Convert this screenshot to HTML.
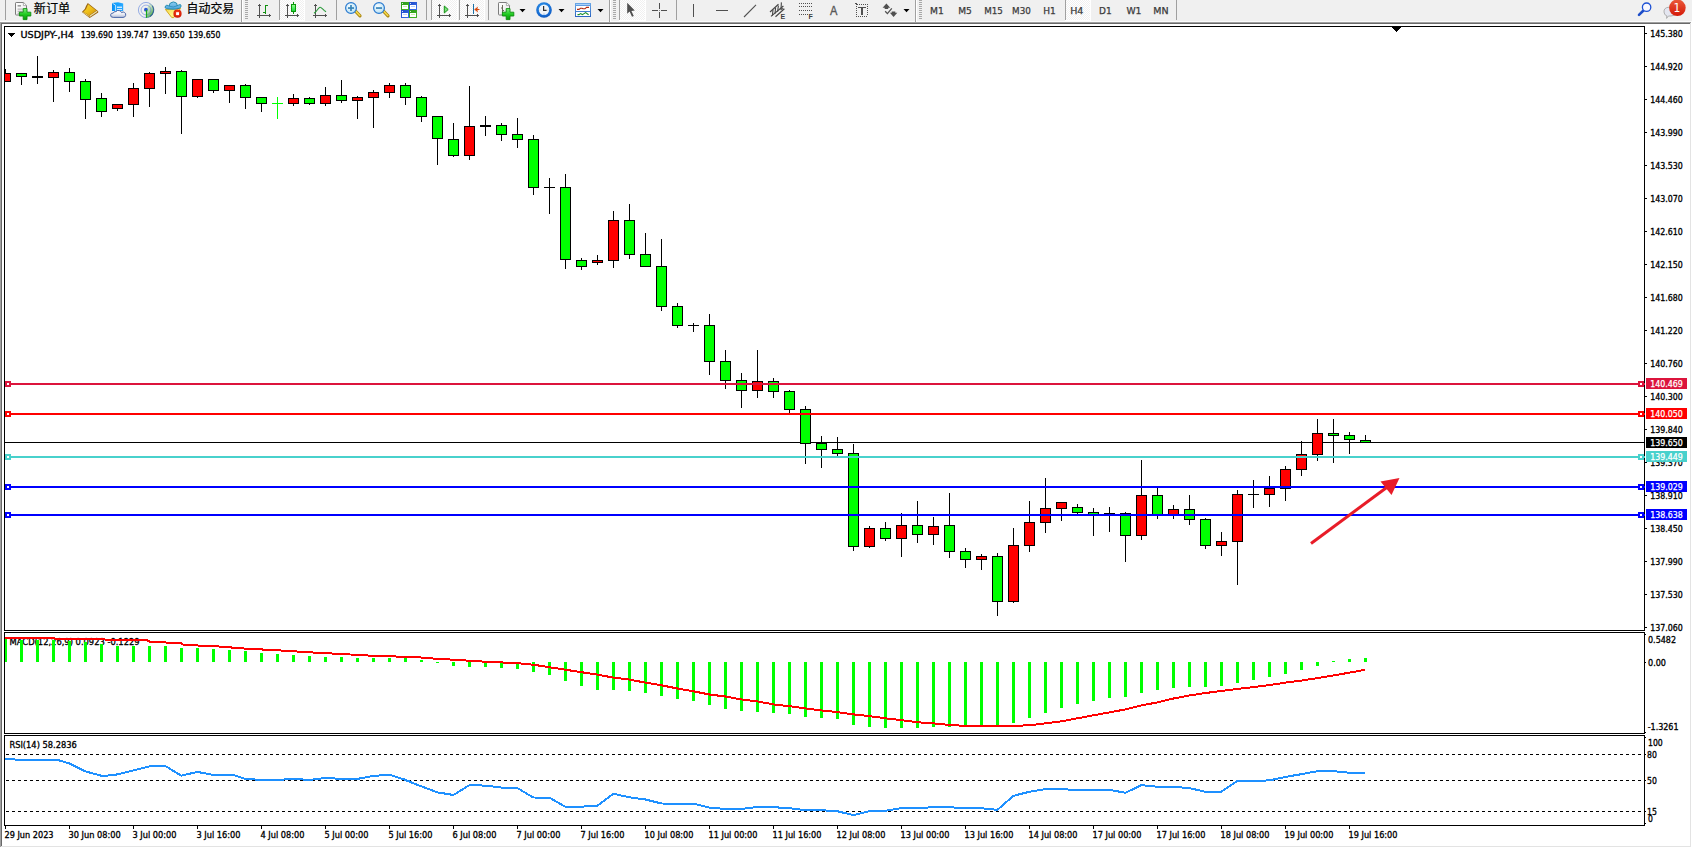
<!DOCTYPE html>
<html lang="zh"><head><meta charset="utf-8"><title>USDJPY-,H4</title>
<style>
html,body{margin:0;padding:0;background:#fff;overflow:hidden}
svg{display:block}
text{white-space:pre}
.tk text{stroke:#000;stroke-width:0.3px}
.tw text{stroke:#fff;stroke-width:0.25px}
</style></head><body>
<svg width="1692" height="848" viewBox="0 0 1692 848">
<g shape-rendering="crispEdges">
<rect x="0" y="0" width="1692" height="848" fill="#fff"/>
<rect x="0" y="0" width="1692" height="21" fill="#f0f0f0"/>
<rect x="0" y="21" width="1692" height="1" fill="#fbfbfb"/>
<rect x="0" y="22" width="1691" height="1" fill="#a0a0a0"/>
<rect x="1" y="23" width="1689" height="1" fill="#696969"/>
<rect x="0" y="22" width="1" height="825" fill="#a0a0a0"/>
<rect x="1" y="23" width="1" height="823" fill="#696969"/>
<rect x="1690" y="23" width="1" height="824" fill="#e3e3e3"/>
<rect x="1" y="846" width="1690" height="1" fill="#e3e3e3"/>
<rect x="1691" y="22" width="1" height="826" fill="#fff"/>
<rect x="0" y="847" width="1692" height="1" fill="#fff"/>
<rect x="4" y="26" width="1641" height="1" fill="#000"/>
<rect x="4" y="630" width="1641" height="1" fill="#000"/>
<rect x="4" y="26" width="1" height="605" fill="#000"/>
<rect x="1644" y="26" width="1" height="605" fill="#000"/>
<rect x="4" y="632" width="1641" height="1" fill="#000"/>
<rect x="4" y="733" width="1641" height="1" fill="#000"/>
<rect x="4" y="632" width="1" height="102" fill="#000"/>
<rect x="1644" y="632" width="1" height="102" fill="#000"/>
<rect x="4" y="735" width="1641" height="1" fill="#000"/>
<rect x="4" y="825" width="1641" height="1" fill="#000"/>
<rect x="4" y="735" width="1" height="91" fill="#000"/>
<rect x="1644" y="735" width="1" height="91" fill="#000"/>
</g>
<g class="tk" font-family='"DejaVu Sans Condensed","DejaVu Sans","Liberation Sans",sans-serif' font-size="9">
<g shape-rendering="crispEdges">
<rect x="1645" y="33" width="2" height="1" fill="#000"/>
<rect x="1645" y="66" width="2" height="1" fill="#000"/>
<rect x="1645" y="99" width="2" height="1" fill="#000"/>
<rect x="1645" y="132" width="2" height="1" fill="#000"/>
<rect x="1645" y="165" width="2" height="1" fill="#000"/>
<rect x="1645" y="198" width="2" height="1" fill="#000"/>
<rect x="1645" y="231" width="2" height="1" fill="#000"/>
<rect x="1645" y="264" width="2" height="1" fill="#000"/>
<rect x="1645" y="297" width="2" height="1" fill="#000"/>
<rect x="1645" y="330" width="2" height="1" fill="#000"/>
<rect x="1645" y="363" width="2" height="1" fill="#000"/>
<rect x="1645" y="396" width="2" height="1" fill="#000"/>
<rect x="1645" y="429" width="2" height="1" fill="#000"/>
<rect x="1645" y="462" width="2" height="1" fill="#000"/>
<rect x="1645" y="495" width="2" height="1" fill="#000"/>
<rect x="1645" y="528" width="2" height="1" fill="#000"/>
<rect x="1645" y="561" width="2" height="1" fill="#000"/>
<rect x="1645" y="594" width="2" height="1" fill="#000"/>
<rect x="1645" y="627" width="2" height="1" fill="#000"/>
</g>
<text x="1650.3" y="37" font-size="9" fill="#000" textLength="32.6" lengthAdjust="spacingAndGlyphs">145.380</text>
<text x="1650.3" y="70" font-size="9" fill="#000" textLength="32.6" lengthAdjust="spacingAndGlyphs">144.920</text>
<text x="1650.3" y="103" font-size="9" fill="#000" textLength="32.6" lengthAdjust="spacingAndGlyphs">144.460</text>
<text x="1650.3" y="136" font-size="9" fill="#000" textLength="32.6" lengthAdjust="spacingAndGlyphs">143.990</text>
<text x="1650.3" y="169" font-size="9" fill="#000" textLength="32.6" lengthAdjust="spacingAndGlyphs">143.530</text>
<text x="1650.3" y="202" font-size="9" fill="#000" textLength="32.6" lengthAdjust="spacingAndGlyphs">143.070</text>
<text x="1650.3" y="235" font-size="9" fill="#000" textLength="32.6" lengthAdjust="spacingAndGlyphs">142.610</text>
<text x="1650.3" y="268" font-size="9" fill="#000" textLength="32.6" lengthAdjust="spacingAndGlyphs">142.150</text>
<text x="1650.3" y="301" font-size="9" fill="#000" textLength="32.6" lengthAdjust="spacingAndGlyphs">141.680</text>
<text x="1650.3" y="334" font-size="9" fill="#000" textLength="32.6" lengthAdjust="spacingAndGlyphs">141.220</text>
<text x="1650.3" y="367" font-size="9" fill="#000" textLength="32.6" lengthAdjust="spacingAndGlyphs">140.760</text>
<text x="1650.3" y="400" font-size="9" fill="#000" textLength="32.6" lengthAdjust="spacingAndGlyphs">140.300</text>
<text x="1650.3" y="433" font-size="9" fill="#000" textLength="32.6" lengthAdjust="spacingAndGlyphs">139.840</text>
<text x="1650.3" y="466" font-size="9" fill="#000" textLength="32.6" lengthAdjust="spacingAndGlyphs">139.370</text>
<text x="1650.3" y="499" font-size="9" fill="#000" textLength="32.6" lengthAdjust="spacingAndGlyphs">138.910</text>
<text x="1650.3" y="532" font-size="9" fill="#000" textLength="32.6" lengthAdjust="spacingAndGlyphs">138.450</text>
<text x="1650.3" y="565" font-size="9" fill="#000" textLength="32.6" lengthAdjust="spacingAndGlyphs">137.990</text>
<text x="1650.3" y="598" font-size="9" fill="#000" textLength="32.6" lengthAdjust="spacingAndGlyphs">137.530</text>
<text x="1650.3" y="631" font-size="9" fill="#000" textLength="32.6" lengthAdjust="spacingAndGlyphs">137.060</text>
<text x="1648" y="643" font-size="9" fill="#000" textLength="28" lengthAdjust="spacingAndGlyphs">0.5482</text>
<text x="1648" y="666" font-size="9" fill="#000" textLength="18" lengthAdjust="spacingAndGlyphs">0.00</text>
<text x="1647.7" y="730" font-size="9" fill="#000" textLength="30.8" lengthAdjust="spacingAndGlyphs">-1.3261</text>
<g shape-rendering="crispEdges">
<rect x="1645" y="634" width="1" height="1" fill="#000"/>
<rect x="1645" y="662" width="1" height="1" fill="#000"/>
<rect x="1645" y="732" width="1" height="1" fill="#000"/>
<rect x="1645" y="737" width="1" height="1" fill="#000"/>
<rect x="1645" y="754" width="1" height="1" fill="#000"/>
<rect x="1645" y="780" width="1" height="1" fill="#000"/>
<rect x="1645" y="811" width="1" height="1" fill="#000"/>
<rect x="1645" y="823" width="1" height="1" fill="#000"/>
</g>
<text x="1648" y="746" font-size="9" fill="#000" textLength="14.8" lengthAdjust="spacingAndGlyphs">100</text>
<text x="1647" y="758" font-size="9" fill="#000" textLength="9.9" lengthAdjust="spacingAndGlyphs">80</text>
<text x="1647" y="784" font-size="9" fill="#000" textLength="9.9" lengthAdjust="spacingAndGlyphs">50</text>
<text x="1647" y="815" font-size="9" fill="#000" textLength="9.9" lengthAdjust="spacingAndGlyphs">15</text>
<text x="1648" y="822" font-size="9" fill="#000" textLength="4.9" lengthAdjust="spacingAndGlyphs">0</text>
<g shape-rendering="crispEdges">
<rect x="8" y="33" width="7" height="1" fill="#000"/>
<rect x="9" y="34" width="5" height="1" fill="#000"/>
<rect x="10" y="35" width="3" height="1" fill="#000"/>
<rect x="11" y="36" width="1" height="1" fill="#000"/>
</g>
<text x="20.5" y="38" font-size="9" fill="#000" textLength="53.5" lengthAdjust="spacingAndGlyphs">USDJPY-,H4</text>
<text x="80.7" y="38" font-size="9" fill="#000" textLength="32.2" lengthAdjust="spacingAndGlyphs">139.690</text>
<text x="116.5" y="38" font-size="9" fill="#000" textLength="32.2" lengthAdjust="spacingAndGlyphs">139.747</text>
<text x="152.4" y="38" font-size="9" fill="#000" textLength="32.2" lengthAdjust="spacingAndGlyphs">139.650</text>
<text x="188.3" y="38" font-size="9" fill="#000" textLength="32.2" lengthAdjust="spacingAndGlyphs">139.650</text>
<g shape-rendering="crispEdges">
<rect x="5" y="826" width="1" height="3" fill="#000"/>
<rect x="69" y="826" width="1" height="3" fill="#000"/>
<rect x="133" y="826" width="1" height="3" fill="#000"/>
<rect x="197" y="826" width="1" height="3" fill="#000"/>
<rect x="261" y="826" width="1" height="3" fill="#000"/>
<rect x="325" y="826" width="1" height="3" fill="#000"/>
<rect x="389" y="826" width="1" height="3" fill="#000"/>
<rect x="453" y="826" width="1" height="3" fill="#000"/>
<rect x="517" y="826" width="1" height="3" fill="#000"/>
<rect x="581" y="826" width="1" height="3" fill="#000"/>
<rect x="645" y="826" width="1" height="3" fill="#000"/>
<rect x="709" y="826" width="1" height="3" fill="#000"/>
<rect x="773" y="826" width="1" height="3" fill="#000"/>
<rect x="837" y="826" width="1" height="3" fill="#000"/>
<rect x="901" y="826" width="1" height="3" fill="#000"/>
<rect x="965" y="826" width="1" height="3" fill="#000"/>
<rect x="1029" y="826" width="1" height="3" fill="#000"/>
<rect x="1093" y="826" width="1" height="3" fill="#000"/>
<rect x="1157" y="826" width="1" height="3" fill="#000"/>
<rect x="1221" y="826" width="1" height="3" fill="#000"/>
<rect x="1285" y="826" width="1" height="3" fill="#000"/>
<rect x="1349" y="826" width="1" height="3" fill="#000"/>
</g>
<text x="4.5" y="838" font-size="9" fill="#000" textLength="49" lengthAdjust="spacingAndGlyphs">29 Jun 2023</text>
<text x="68.5" y="838" font-size="9" fill="#000" textLength="52.3" lengthAdjust="spacingAndGlyphs">30 Jun 08:00</text>
<text x="132.5" y="838" font-size="9" fill="#000" textLength="44" lengthAdjust="spacingAndGlyphs">3 Jul 00:00</text>
<text x="196.5" y="838" font-size="9" fill="#000" textLength="44" lengthAdjust="spacingAndGlyphs">3 Jul 16:00</text>
<text x="260.5" y="838" font-size="9" fill="#000" textLength="44" lengthAdjust="spacingAndGlyphs">4 Jul 08:00</text>
<text x="324.5" y="838" font-size="9" fill="#000" textLength="44" lengthAdjust="spacingAndGlyphs">5 Jul 00:00</text>
<text x="388.5" y="838" font-size="9" fill="#000" textLength="44" lengthAdjust="spacingAndGlyphs">5 Jul 16:00</text>
<text x="452.5" y="838" font-size="9" fill="#000" textLength="44" lengthAdjust="spacingAndGlyphs">6 Jul 08:00</text>
<text x="516.5" y="838" font-size="9" fill="#000" textLength="44" lengthAdjust="spacingAndGlyphs">7 Jul 00:00</text>
<text x="580.5" y="838" font-size="9" fill="#000" textLength="44" lengthAdjust="spacingAndGlyphs">7 Jul 16:00</text>
<text x="644.5" y="838" font-size="9" fill="#000" textLength="49" lengthAdjust="spacingAndGlyphs">10 Jul 08:00</text>
<text x="708.5" y="838" font-size="9" fill="#000" textLength="49" lengthAdjust="spacingAndGlyphs">11 Jul 00:00</text>
<text x="772.5" y="838" font-size="9" fill="#000" textLength="49" lengthAdjust="spacingAndGlyphs">11 Jul 16:00</text>
<text x="836.5" y="838" font-size="9" fill="#000" textLength="49" lengthAdjust="spacingAndGlyphs">12 Jul 08:00</text>
<text x="900.5" y="838" font-size="9" fill="#000" textLength="49" lengthAdjust="spacingAndGlyphs">13 Jul 00:00</text>
<text x="964.5" y="838" font-size="9" fill="#000" textLength="49" lengthAdjust="spacingAndGlyphs">13 Jul 16:00</text>
<text x="1028.5" y="838" font-size="9" fill="#000" textLength="49" lengthAdjust="spacingAndGlyphs">14 Jul 08:00</text>
<text x="1092.5" y="838" font-size="9" fill="#000" textLength="49" lengthAdjust="spacingAndGlyphs">17 Jul 00:00</text>
<text x="1156.5" y="838" font-size="9" fill="#000" textLength="49" lengthAdjust="spacingAndGlyphs">17 Jul 16:00</text>
<text x="1220.5" y="838" font-size="9" fill="#000" textLength="49" lengthAdjust="spacingAndGlyphs">18 Jul 08:00</text>
<text x="1284.5" y="838" font-size="9" fill="#000" textLength="49" lengthAdjust="spacingAndGlyphs">19 Jul 00:00</text>
<text x="1348.5" y="838" font-size="9" fill="#000" textLength="49" lengthAdjust="spacingAndGlyphs">19 Jul 16:00</text>
</g>
<g shape-rendering="crispEdges">
<rect x="4" y="442" width="1640" height="1" fill="#000"/>
</g>
<g shape-rendering="crispEdges">
<rect x="5" y="69" width="1" height="4" fill="#000"/>
<rect x="5" y="73" width="6" height="9" fill="#000"/>
<rect x="5" y="74" width="5" height="7" fill="#ff0000"/>
<rect x="21" y="77" width="1" height="8" fill="#000"/>
<rect x="16" y="73" width="11" height="4" fill="#000"/>
<rect x="17" y="74" width="9" height="2" fill="#00ff00"/>
<rect x="37" y="56" width="1" height="28" fill="#000"/>
<rect x="32" y="76" width="11" height="2" fill="#000"/>
<rect x="53" y="70" width="1" height="2" fill="#000"/>
<rect x="53" y="78" width="1" height="24" fill="#000"/>
<rect x="48" y="72" width="11" height="6" fill="#000"/>
<rect x="49" y="73" width="9" height="4" fill="#ff0000"/>
<rect x="69" y="68" width="1" height="4" fill="#000"/>
<rect x="69" y="82" width="1" height="10" fill="#000"/>
<rect x="64" y="72" width="11" height="10" fill="#000"/>
<rect x="65" y="73" width="9" height="8" fill="#00ff00"/>
<rect x="85" y="79" width="1" height="2" fill="#000"/>
<rect x="85" y="100" width="1" height="19" fill="#000"/>
<rect x="80" y="81" width="11" height="19" fill="#000"/>
<rect x="81" y="82" width="9" height="17" fill="#00ff00"/>
<rect x="101" y="93" width="1" height="5" fill="#000"/>
<rect x="101" y="112" width="1" height="5" fill="#000"/>
<rect x="96" y="98" width="11" height="14" fill="#000"/>
<rect x="97" y="99" width="9" height="12" fill="#00ff00"/>
<rect x="117" y="109" width="1" height="2" fill="#000"/>
<rect x="112" y="104" width="11" height="5" fill="#000"/>
<rect x="113" y="105" width="9" height="3" fill="#ff0000"/>
<rect x="133" y="83" width="1" height="5" fill="#000"/>
<rect x="133" y="105" width="1" height="12" fill="#000"/>
<rect x="128" y="88" width="11" height="17" fill="#000"/>
<rect x="129" y="89" width="9" height="15" fill="#ff0000"/>
<rect x="149" y="72" width="1" height="1" fill="#000"/>
<rect x="149" y="89" width="1" height="18" fill="#000"/>
<rect x="144" y="73" width="11" height="16" fill="#000"/>
<rect x="145" y="74" width="9" height="14" fill="#ff0000"/>
<rect x="165" y="67" width="1" height="4" fill="#000"/>
<rect x="165" y="74" width="1" height="20" fill="#000"/>
<rect x="160" y="71" width="11" height="3" fill="#000"/>
<rect x="161" y="72" width="9" height="1" fill="#ff0000"/>
<rect x="181" y="70" width="1" height="1" fill="#000"/>
<rect x="181" y="97" width="1" height="37" fill="#000"/>
<rect x="176" y="71" width="11" height="26" fill="#000"/>
<rect x="177" y="72" width="9" height="24" fill="#00ff00"/>
<rect x="197" y="97" width="1" height="1" fill="#000"/>
<rect x="192" y="79" width="11" height="18" fill="#000"/>
<rect x="193" y="80" width="9" height="16" fill="#ff0000"/>
<rect x="213" y="91" width="1" height="2" fill="#000"/>
<rect x="208" y="79" width="11" height="12" fill="#000"/>
<rect x="209" y="80" width="9" height="10" fill="#00ff00"/>
<rect x="229" y="91" width="1" height="12" fill="#000"/>
<rect x="224" y="85" width="11" height="6" fill="#000"/>
<rect x="225" y="86" width="9" height="4" fill="#ff0000"/>
<rect x="245" y="84" width="1" height="1" fill="#000"/>
<rect x="245" y="98" width="1" height="11" fill="#000"/>
<rect x="240" y="85" width="11" height="13" fill="#000"/>
<rect x="241" y="86" width="9" height="11" fill="#00ff00"/>
<rect x="261" y="104" width="1" height="8" fill="#000"/>
<rect x="256" y="97" width="11" height="7" fill="#000"/>
<rect x="257" y="98" width="9" height="5" fill="#00ff00"/>
<rect x="277" y="97" width="1" height="22" fill="#00ff00"/>
<rect x="272" y="103" width="11" height="1" fill="#00ff00"/>
<rect x="293" y="94" width="1" height="4" fill="#000"/>
<rect x="293" y="104" width="1" height="2" fill="#000"/>
<rect x="288" y="98" width="11" height="6" fill="#000"/>
<rect x="289" y="99" width="9" height="4" fill="#ff0000"/>
<rect x="309" y="97" width="1" height="1" fill="#000"/>
<rect x="309" y="104" width="1" height="1" fill="#000"/>
<rect x="304" y="98" width="11" height="6" fill="#000"/>
<rect x="305" y="99" width="9" height="4" fill="#00ff00"/>
<rect x="325" y="87" width="1" height="8" fill="#000"/>
<rect x="325" y="104" width="1" height="2" fill="#000"/>
<rect x="320" y="95" width="11" height="9" fill="#000"/>
<rect x="321" y="96" width="9" height="7" fill="#ff0000"/>
<rect x="341" y="80" width="1" height="15" fill="#000"/>
<rect x="341" y="101" width="1" height="2" fill="#000"/>
<rect x="336" y="95" width="11" height="6" fill="#000"/>
<rect x="337" y="96" width="9" height="4" fill="#00ff00"/>
<rect x="357" y="96" width="1" height="1" fill="#000"/>
<rect x="357" y="101" width="1" height="18" fill="#000"/>
<rect x="352" y="97" width="11" height="4" fill="#000"/>
<rect x="353" y="98" width="9" height="2" fill="#ff0000"/>
<rect x="373" y="90" width="1" height="2" fill="#000"/>
<rect x="373" y="98" width="1" height="30" fill="#000"/>
<rect x="368" y="92" width="11" height="6" fill="#000"/>
<rect x="369" y="93" width="9" height="4" fill="#ff0000"/>
<rect x="389" y="83" width="1" height="2" fill="#000"/>
<rect x="389" y="93" width="1" height="5" fill="#000"/>
<rect x="384" y="85" width="11" height="8" fill="#000"/>
<rect x="385" y="86" width="9" height="6" fill="#ff0000"/>
<rect x="405" y="83" width="1" height="2" fill="#000"/>
<rect x="405" y="98" width="1" height="7" fill="#000"/>
<rect x="400" y="85" width="11" height="13" fill="#000"/>
<rect x="401" y="86" width="9" height="11" fill="#00ff00"/>
<rect x="421" y="96" width="1" height="1" fill="#000"/>
<rect x="421" y="117" width="1" height="5" fill="#000"/>
<rect x="416" y="97" width="11" height="20" fill="#000"/>
<rect x="417" y="98" width="9" height="18" fill="#00ff00"/>
<rect x="437" y="139" width="1" height="26" fill="#000"/>
<rect x="432" y="116" width="11" height="23" fill="#000"/>
<rect x="433" y="117" width="9" height="21" fill="#00ff00"/>
<rect x="453" y="123" width="1" height="16" fill="#000"/>
<rect x="453" y="156" width="1" height="1" fill="#000"/>
<rect x="448" y="139" width="11" height="17" fill="#000"/>
<rect x="449" y="140" width="9" height="15" fill="#00ff00"/>
<rect x="469" y="86" width="1" height="40" fill="#000"/>
<rect x="469" y="156" width="1" height="4" fill="#000"/>
<rect x="464" y="126" width="11" height="30" fill="#000"/>
<rect x="465" y="127" width="9" height="28" fill="#ff0000"/>
<rect x="485" y="116" width="1" height="20" fill="#000"/>
<rect x="480" y="125" width="11" height="2" fill="#000"/>
<rect x="501" y="123" width="1" height="2" fill="#000"/>
<rect x="501" y="135" width="1" height="6" fill="#000"/>
<rect x="496" y="125" width="11" height="10" fill="#000"/>
<rect x="497" y="126" width="9" height="8" fill="#00ff00"/>
<rect x="517" y="118" width="1" height="16" fill="#000"/>
<rect x="517" y="140" width="1" height="8" fill="#000"/>
<rect x="512" y="134" width="11" height="6" fill="#000"/>
<rect x="513" y="135" width="9" height="4" fill="#00ff00"/>
<rect x="533" y="135" width="1" height="4" fill="#000"/>
<rect x="533" y="188" width="1" height="7" fill="#000"/>
<rect x="528" y="139" width="11" height="49" fill="#000"/>
<rect x="529" y="140" width="9" height="47" fill="#00ff00"/>
<rect x="549" y="178" width="1" height="36" fill="#000"/>
<rect x="544" y="187" width="11" height="1" fill="#000"/>
<rect x="565" y="174" width="1" height="13" fill="#000"/>
<rect x="565" y="260" width="1" height="9" fill="#000"/>
<rect x="560" y="187" width="11" height="73" fill="#000"/>
<rect x="561" y="188" width="9" height="71" fill="#00ff00"/>
<rect x="581" y="258" width="1" height="2" fill="#000"/>
<rect x="581" y="267" width="1" height="3" fill="#000"/>
<rect x="576" y="260" width="11" height="7" fill="#000"/>
<rect x="577" y="261" width="9" height="5" fill="#00ff00"/>
<rect x="597" y="255" width="1" height="5" fill="#000"/>
<rect x="597" y="263" width="1" height="2" fill="#000"/>
<rect x="592" y="260" width="11" height="3" fill="#000"/>
<rect x="593" y="261" width="9" height="1" fill="#ff0000"/>
<rect x="613" y="211" width="1" height="9" fill="#000"/>
<rect x="613" y="261" width="1" height="7" fill="#000"/>
<rect x="608" y="220" width="11" height="41" fill="#000"/>
<rect x="609" y="221" width="9" height="39" fill="#ff0000"/>
<rect x="629" y="204" width="1" height="16" fill="#000"/>
<rect x="629" y="255" width="1" height="4" fill="#000"/>
<rect x="624" y="220" width="11" height="35" fill="#000"/>
<rect x="625" y="221" width="9" height="33" fill="#00ff00"/>
<rect x="645" y="233" width="1" height="21" fill="#000"/>
<rect x="640" y="254" width="11" height="13" fill="#000"/>
<rect x="641" y="255" width="9" height="11" fill="#00ff00"/>
<rect x="661" y="239" width="1" height="27" fill="#000"/>
<rect x="661" y="307" width="1" height="4" fill="#000"/>
<rect x="656" y="266" width="11" height="41" fill="#000"/>
<rect x="657" y="267" width="9" height="39" fill="#00ff00"/>
<rect x="677" y="303" width="1" height="3" fill="#000"/>
<rect x="677" y="326" width="1" height="2" fill="#000"/>
<rect x="672" y="306" width="11" height="20" fill="#000"/>
<rect x="673" y="307" width="9" height="18" fill="#00ff00"/>
<rect x="693" y="323" width="1" height="9" fill="#000"/>
<rect x="688" y="325" width="11" height="1" fill="#000"/>
<rect x="709" y="314" width="1" height="11" fill="#000"/>
<rect x="709" y="362" width="1" height="13" fill="#000"/>
<rect x="704" y="325" width="11" height="37" fill="#000"/>
<rect x="705" y="326" width="9" height="35" fill="#00ff00"/>
<rect x="725" y="350" width="1" height="11" fill="#000"/>
<rect x="725" y="381" width="1" height="8" fill="#000"/>
<rect x="720" y="361" width="11" height="20" fill="#000"/>
<rect x="721" y="362" width="9" height="18" fill="#00ff00"/>
<rect x="741" y="373" width="1" height="7" fill="#000"/>
<rect x="741" y="391" width="1" height="17" fill="#000"/>
<rect x="736" y="380" width="11" height="11" fill="#000"/>
<rect x="737" y="381" width="9" height="9" fill="#00ff00"/>
<rect x="757" y="350" width="1" height="31" fill="#000"/>
<rect x="757" y="391" width="1" height="7" fill="#000"/>
<rect x="752" y="381" width="11" height="10" fill="#000"/>
<rect x="753" y="382" width="9" height="8" fill="#ff0000"/>
<rect x="773" y="378" width="1" height="3" fill="#000"/>
<rect x="773" y="392" width="1" height="6" fill="#000"/>
<rect x="768" y="381" width="11" height="11" fill="#000"/>
<rect x="769" y="382" width="9" height="9" fill="#00ff00"/>
<rect x="789" y="390" width="1" height="1" fill="#000"/>
<rect x="789" y="410" width="1" height="3" fill="#000"/>
<rect x="784" y="391" width="11" height="19" fill="#000"/>
<rect x="785" y="392" width="9" height="17" fill="#00ff00"/>
<rect x="805" y="406" width="1" height="3" fill="#000"/>
<rect x="805" y="444" width="1" height="20" fill="#000"/>
<rect x="800" y="409" width="11" height="35" fill="#000"/>
<rect x="801" y="410" width="9" height="33" fill="#00ff00"/>
<rect x="821" y="436" width="1" height="7" fill="#000"/>
<rect x="821" y="450" width="1" height="18" fill="#000"/>
<rect x="816" y="443" width="11" height="7" fill="#000"/>
<rect x="817" y="444" width="9" height="5" fill="#00ff00"/>
<rect x="837" y="437" width="1" height="12" fill="#000"/>
<rect x="837" y="454" width="1" height="2" fill="#000"/>
<rect x="832" y="449" width="11" height="5" fill="#000"/>
<rect x="833" y="450" width="9" height="3" fill="#00ff00"/>
<rect x="853" y="444" width="1" height="9" fill="#000"/>
<rect x="853" y="547" width="1" height="4" fill="#000"/>
<rect x="848" y="453" width="11" height="94" fill="#000"/>
<rect x="849" y="454" width="9" height="92" fill="#00ff00"/>
<rect x="869" y="526" width="1" height="2" fill="#000"/>
<rect x="869" y="547" width="1" height="1" fill="#000"/>
<rect x="864" y="528" width="11" height="19" fill="#000"/>
<rect x="865" y="529" width="9" height="17" fill="#ff0000"/>
<rect x="885" y="522" width="1" height="6" fill="#000"/>
<rect x="885" y="539" width="1" height="2" fill="#000"/>
<rect x="880" y="528" width="11" height="11" fill="#000"/>
<rect x="881" y="529" width="9" height="9" fill="#00ff00"/>
<rect x="901" y="513" width="1" height="12" fill="#000"/>
<rect x="901" y="539" width="1" height="18" fill="#000"/>
<rect x="896" y="525" width="11" height="14" fill="#000"/>
<rect x="897" y="526" width="9" height="12" fill="#ff0000"/>
<rect x="917" y="501" width="1" height="24" fill="#000"/>
<rect x="917" y="535" width="1" height="8" fill="#000"/>
<rect x="912" y="525" width="11" height="10" fill="#000"/>
<rect x="913" y="526" width="9" height="8" fill="#00ff00"/>
<rect x="933" y="517" width="1" height="9" fill="#000"/>
<rect x="933" y="535" width="1" height="10" fill="#000"/>
<rect x="928" y="526" width="11" height="9" fill="#000"/>
<rect x="929" y="527" width="9" height="7" fill="#ff0000"/>
<rect x="949" y="493" width="1" height="32" fill="#000"/>
<rect x="949" y="552" width="1" height="6" fill="#000"/>
<rect x="944" y="525" width="11" height="27" fill="#000"/>
<rect x="945" y="526" width="9" height="25" fill="#00ff00"/>
<rect x="965" y="548" width="1" height="3" fill="#000"/>
<rect x="965" y="560" width="1" height="8" fill="#000"/>
<rect x="960" y="551" width="11" height="9" fill="#000"/>
<rect x="961" y="552" width="9" height="7" fill="#00ff00"/>
<rect x="981" y="554" width="1" height="2" fill="#000"/>
<rect x="981" y="560" width="1" height="10" fill="#000"/>
<rect x="976" y="556" width="11" height="4" fill="#000"/>
<rect x="977" y="557" width="9" height="2" fill="#ff0000"/>
<rect x="997" y="553" width="1" height="3" fill="#000"/>
<rect x="997" y="602" width="1" height="14" fill="#000"/>
<rect x="992" y="556" width="11" height="46" fill="#000"/>
<rect x="993" y="557" width="9" height="44" fill="#00ff00"/>
<rect x="1013" y="528" width="1" height="17" fill="#000"/>
<rect x="1013" y="602" width="1" height="1" fill="#000"/>
<rect x="1008" y="545" width="11" height="57" fill="#000"/>
<rect x="1009" y="546" width="9" height="55" fill="#ff0000"/>
<rect x="1029" y="501" width="1" height="21" fill="#000"/>
<rect x="1029" y="546" width="1" height="6" fill="#000"/>
<rect x="1024" y="522" width="11" height="24" fill="#000"/>
<rect x="1025" y="523" width="9" height="22" fill="#ff0000"/>
<rect x="1045" y="478" width="1" height="30" fill="#000"/>
<rect x="1045" y="523" width="1" height="10" fill="#000"/>
<rect x="1040" y="508" width="11" height="15" fill="#000"/>
<rect x="1041" y="509" width="9" height="13" fill="#ff0000"/>
<rect x="1061" y="509" width="1" height="12" fill="#000"/>
<rect x="1056" y="502" width="11" height="7" fill="#000"/>
<rect x="1057" y="503" width="9" height="5" fill="#ff0000"/>
<rect x="1077" y="504" width="1" height="3" fill="#000"/>
<rect x="1077" y="513" width="1" height="1" fill="#000"/>
<rect x="1072" y="507" width="11" height="6" fill="#000"/>
<rect x="1073" y="508" width="9" height="4" fill="#00ff00"/>
<rect x="1093" y="508" width="1" height="4" fill="#000"/>
<rect x="1093" y="515" width="1" height="21" fill="#000"/>
<rect x="1088" y="512" width="11" height="3" fill="#000"/>
<rect x="1089" y="513" width="9" height="1" fill="#00ff00"/>
<rect x="1109" y="507" width="1" height="25" fill="#000"/>
<rect x="1104" y="513" width="11" height="1" fill="#000"/>
<rect x="1125" y="512" width="1" height="1" fill="#000"/>
<rect x="1125" y="536" width="1" height="26" fill="#000"/>
<rect x="1120" y="513" width="11" height="23" fill="#000"/>
<rect x="1121" y="514" width="9" height="21" fill="#00ff00"/>
<rect x="1141" y="460" width="1" height="35" fill="#000"/>
<rect x="1141" y="536" width="1" height="4" fill="#000"/>
<rect x="1136" y="495" width="11" height="41" fill="#000"/>
<rect x="1137" y="496" width="9" height="39" fill="#ff0000"/>
<rect x="1157" y="487" width="1" height="8" fill="#000"/>
<rect x="1157" y="515" width="1" height="4" fill="#000"/>
<rect x="1152" y="495" width="11" height="20" fill="#000"/>
<rect x="1153" y="496" width="9" height="18" fill="#00ff00"/>
<rect x="1173" y="505" width="1" height="4" fill="#000"/>
<rect x="1173" y="515" width="1" height="4" fill="#000"/>
<rect x="1168" y="509" width="11" height="6" fill="#000"/>
<rect x="1169" y="510" width="9" height="4" fill="#ff0000"/>
<rect x="1189" y="495" width="1" height="14" fill="#000"/>
<rect x="1189" y="520" width="1" height="5" fill="#000"/>
<rect x="1184" y="509" width="11" height="11" fill="#000"/>
<rect x="1185" y="510" width="9" height="9" fill="#00ff00"/>
<rect x="1205" y="518" width="1" height="1" fill="#000"/>
<rect x="1205" y="546" width="1" height="3" fill="#000"/>
<rect x="1200" y="519" width="11" height="27" fill="#000"/>
<rect x="1201" y="520" width="9" height="25" fill="#00ff00"/>
<rect x="1221" y="532" width="1" height="9" fill="#000"/>
<rect x="1221" y="546" width="1" height="10" fill="#000"/>
<rect x="1216" y="541" width="11" height="5" fill="#000"/>
<rect x="1217" y="542" width="9" height="3" fill="#ff0000"/>
<rect x="1237" y="490" width="1" height="4" fill="#000"/>
<rect x="1237" y="542" width="1" height="43" fill="#000"/>
<rect x="1232" y="494" width="11" height="48" fill="#000"/>
<rect x="1233" y="495" width="9" height="46" fill="#ff0000"/>
<rect x="1253" y="480" width="1" height="28" fill="#000"/>
<rect x="1248" y="494" width="11" height="1" fill="#000"/>
<rect x="1269" y="476" width="1" height="12" fill="#000"/>
<rect x="1269" y="495" width="1" height="12" fill="#000"/>
<rect x="1264" y="488" width="11" height="7" fill="#000"/>
<rect x="1265" y="489" width="9" height="5" fill="#ff0000"/>
<rect x="1285" y="466" width="1" height="3" fill="#000"/>
<rect x="1285" y="489" width="1" height="12" fill="#000"/>
<rect x="1280" y="469" width="11" height="20" fill="#000"/>
<rect x="1281" y="470" width="9" height="18" fill="#ff0000"/>
<rect x="1301" y="441" width="1" height="13" fill="#000"/>
<rect x="1301" y="470" width="1" height="6" fill="#000"/>
<rect x="1296" y="454" width="11" height="16" fill="#000"/>
<rect x="1297" y="455" width="9" height="14" fill="#ff0000"/>
<rect x="1317" y="419" width="1" height="14" fill="#000"/>
<rect x="1317" y="455" width="1" height="6" fill="#000"/>
<rect x="1312" y="433" width="11" height="22" fill="#000"/>
<rect x="1313" y="434" width="9" height="20" fill="#ff0000"/>
<rect x="1333" y="419" width="1" height="14" fill="#000"/>
<rect x="1333" y="436" width="1" height="27" fill="#000"/>
<rect x="1328" y="433" width="11" height="3" fill="#000"/>
<rect x="1329" y="434" width="9" height="1" fill="#00ff00"/>
<rect x="1349" y="432" width="1" height="3" fill="#000"/>
<rect x="1349" y="440" width="1" height="14" fill="#000"/>
<rect x="1344" y="435" width="11" height="5" fill="#000"/>
<rect x="1345" y="436" width="9" height="3" fill="#00ff00"/>
<rect x="1365" y="435" width="1" height="5" fill="#000"/>
<rect x="1360" y="440" width="11" height="3" fill="#000"/>
<rect x="1361" y="441" width="9" height="1" fill="#00ff00"/>
</g>
<g shape-rendering="crispEdges">
<rect x="5" y="383" width="1639" height="2" fill="#dc143c"/>
<rect x="1644" y="383" width="1" height="2" fill="#dc143c"/>
<rect x="5" y="381" width="6" height="6" fill="#dc143c"/>
<rect x="7" y="383" width="2" height="2" fill="#fff"/>
<rect x="1638" y="381" width="6" height="6" fill="#dc143c"/>
<rect x="1640" y="383" width="2" height="2" fill="#fff"/>
<rect x="5" y="413" width="1639" height="2" fill="#ff0000"/>
<rect x="1644" y="413" width="1" height="2" fill="#ff0000"/>
<rect x="5" y="411" width="6" height="6" fill="#ff0000"/>
<rect x="7" y="413" width="2" height="2" fill="#fff"/>
<rect x="1638" y="411" width="6" height="6" fill="#ff0000"/>
<rect x="1640" y="413" width="2" height="2" fill="#fff"/>
<rect x="5" y="456" width="1639" height="2" fill="#48d1cc"/>
<rect x="1644" y="456" width="1" height="2" fill="#48d1cc"/>
<rect x="5" y="454" width="6" height="6" fill="#48d1cc"/>
<rect x="7" y="456" width="2" height="2" fill="#fff"/>
<rect x="1638" y="454" width="6" height="6" fill="#48d1cc"/>
<rect x="1640" y="456" width="2" height="2" fill="#fff"/>
<rect x="5" y="486" width="1639" height="2" fill="#0000ff"/>
<rect x="1644" y="486" width="1" height="2" fill="#0000ff"/>
<rect x="5" y="484" width="6" height="6" fill="#0000ff"/>
<rect x="7" y="486" width="2" height="2" fill="#fff"/>
<rect x="1638" y="484" width="6" height="6" fill="#0000ff"/>
<rect x="1640" y="486" width="2" height="2" fill="#fff"/>
<rect x="5" y="514" width="1639" height="2" fill="#0000ff"/>
<rect x="1644" y="514" width="1" height="2" fill="#0000ff"/>
<rect x="5" y="512" width="6" height="6" fill="#0000ff"/>
<rect x="7" y="514" width="2" height="2" fill="#fff"/>
<rect x="1638" y="512" width="6" height="6" fill="#0000ff"/>
<rect x="1640" y="514" width="2" height="2" fill="#fff"/>
</g>
<g class="tw" font-family='"DejaVu Sans Condensed","DejaVu Sans","Liberation Sans",sans-serif' font-size="9">
<g shape-rendering="crispEdges">
<rect x="1646" y="378" width="41" height="11" fill="#dc143c"/>
<rect x="1646" y="408" width="41" height="11" fill="#ff0000"/>
<rect x="1646" y="451" width="41" height="11" fill="#48d1cc"/>
<rect x="1646" y="481" width="41" height="11" fill="#0000ff"/>
<rect x="1646" y="509" width="41" height="11" fill="#0000ff"/>
<rect x="1646" y="437" width="41" height="11" fill="#000000"/>
</g>
<text x="1650.3" y="387" font-size="9" fill="#fff" textLength="32.6" lengthAdjust="spacingAndGlyphs">140.469</text>
<text x="1650.3" y="417" font-size="9" fill="#fff" textLength="32.6" lengthAdjust="spacingAndGlyphs">140.050</text>
<text x="1650.3" y="460" font-size="9" fill="#fff" textLength="32.6" lengthAdjust="spacingAndGlyphs">139.449</text>
<text x="1650.3" y="490" font-size="9" fill="#fff" textLength="32.6" lengthAdjust="spacingAndGlyphs">139.029</text>
<text x="1650.3" y="518" font-size="9" fill="#fff" textLength="32.6" lengthAdjust="spacingAndGlyphs">138.638</text>
<text x="1650.3" y="446" font-size="9" fill="#fff" textLength="32.6" lengthAdjust="spacingAndGlyphs">139.650</text>
</g>
<g shape-rendering="crispEdges">
<rect x="1392" y="27" width="9" height="1" fill="#000"/>
<rect x="1393" y="28" width="7" height="1" fill="#000"/>
<rect x="1394" y="29" width="5" height="1" fill="#000"/>
<rect x="1395" y="30" width="3" height="1" fill="#000"/>
<rect x="1396" y="31" width="1" height="1" fill="#000"/>
</g>
<g>
<line x1="1311" y1="543.5" x2="1388" y2="486.5" stroke="#e81c28" stroke-width="3"/>
<path d="M1399.5 478 L1380.5 481.5 L1391.5 495 Z" fill="#e81c28"/>
</g>
<g class="tk" font-family='"DejaVu Sans Condensed","DejaVu Sans","Liberation Sans",sans-serif' font-size="9">
<text x="9.6" y="645" font-size="9" fill="#000" textLength="130" lengthAdjust="spacingAndGlyphs">MACD(12,26,9) 0.0923 -0.1229</text>
<text x="9.4" y="748" font-size="9" fill="#000" textLength="67.4" lengthAdjust="spacingAndGlyphs">RSI(14) 58.2836</text>
</g>
<g shape-rendering="crispEdges">
<rect x="5" y="639" width="2" height="23" fill="#00ff00"/>
<rect x="20" y="640" width="3" height="22" fill="#00ff00"/>
<rect x="36" y="640" width="3" height="22" fill="#00ff00"/>
<rect x="52" y="640" width="3" height="22" fill="#00ff00"/>
<rect x="68" y="641" width="3" height="21" fill="#00ff00"/>
<rect x="84" y="642" width="3" height="20" fill="#00ff00"/>
<rect x="100" y="644" width="3" height="18" fill="#00ff00"/>
<rect x="116" y="646" width="3" height="16" fill="#00ff00"/>
<rect x="132" y="646" width="3" height="16" fill="#00ff00"/>
<rect x="148" y="646" width="3" height="16" fill="#00ff00"/>
<rect x="164" y="646" width="3" height="16" fill="#00ff00"/>
<rect x="180" y="648" width="3" height="14" fill="#00ff00"/>
<rect x="196" y="648" width="3" height="14" fill="#00ff00"/>
<rect x="212" y="649" width="3" height="13" fill="#00ff00"/>
<rect x="228" y="650" width="3" height="12" fill="#00ff00"/>
<rect x="244" y="651" width="3" height="11" fill="#00ff00"/>
<rect x="260" y="653" width="3" height="9" fill="#00ff00"/>
<rect x="276" y="654" width="3" height="8" fill="#00ff00"/>
<rect x="292" y="655" width="3" height="7" fill="#00ff00"/>
<rect x="308" y="656" width="3" height="6" fill="#00ff00"/>
<rect x="324" y="657" width="3" height="5" fill="#00ff00"/>
<rect x="340" y="657" width="3" height="5" fill="#00ff00"/>
<rect x="356" y="658" width="3" height="4" fill="#00ff00"/>
<rect x="372" y="658" width="3" height="4" fill="#00ff00"/>
<rect x="388" y="658" width="3" height="4" fill="#00ff00"/>
<rect x="404" y="658" width="3" height="4" fill="#00ff00"/>
<rect x="420" y="660" width="3" height="2" fill="#00ff00"/>
<rect x="436" y="662" width="3" height="1" fill="#00ff00"/>
<rect x="452" y="662" width="3" height="4" fill="#00ff00"/>
<rect x="468" y="662" width="3" height="5" fill="#00ff00"/>
<rect x="484" y="662" width="3" height="5" fill="#00ff00"/>
<rect x="500" y="662" width="3" height="6" fill="#00ff00"/>
<rect x="516" y="662" width="3" height="7" fill="#00ff00"/>
<rect x="532" y="662" width="3" height="10" fill="#00ff00"/>
<rect x="548" y="662" width="3" height="13" fill="#00ff00"/>
<rect x="564" y="662" width="3" height="19" fill="#00ff00"/>
<rect x="580" y="662" width="3" height="24" fill="#00ff00"/>
<rect x="596" y="662" width="3" height="28" fill="#00ff00"/>
<rect x="612" y="662" width="3" height="28" fill="#00ff00"/>
<rect x="628" y="662" width="3" height="29" fill="#00ff00"/>
<rect x="644" y="662" width="3" height="31" fill="#00ff00"/>
<rect x="660" y="662" width="3" height="34" fill="#00ff00"/>
<rect x="676" y="662" width="3" height="37" fill="#00ff00"/>
<rect x="692" y="662" width="3" height="39" fill="#00ff00"/>
<rect x="708" y="662" width="3" height="43" fill="#00ff00"/>
<rect x="724" y="662" width="3" height="47" fill="#00ff00"/>
<rect x="740" y="662" width="3" height="49" fill="#00ff00"/>
<rect x="756" y="662" width="3" height="50" fill="#00ff00"/>
<rect x="772" y="662" width="3" height="51" fill="#00ff00"/>
<rect x="788" y="662" width="3" height="52" fill="#00ff00"/>
<rect x="804" y="662" width="3" height="55" fill="#00ff00"/>
<rect x="820" y="662" width="3" height="56" fill="#00ff00"/>
<rect x="836" y="662" width="3" height="57" fill="#00ff00"/>
<rect x="852" y="662" width="3" height="63" fill="#00ff00"/>
<rect x="868" y="662" width="3" height="65" fill="#00ff00"/>
<rect x="884" y="662" width="3" height="66" fill="#00ff00"/>
<rect x="900" y="662" width="3" height="66" fill="#00ff00"/>
<rect x="916" y="662" width="3" height="66" fill="#00ff00"/>
<rect x="932" y="662" width="3" height="65" fill="#00ff00"/>
<rect x="948" y="662" width="3" height="65" fill="#00ff00"/>
<rect x="964" y="662" width="3" height="64" fill="#00ff00"/>
<rect x="980" y="662" width="3" height="64" fill="#00ff00"/>
<rect x="996" y="662" width="3" height="64" fill="#00ff00"/>
<rect x="1012" y="662" width="3" height="61" fill="#00ff00"/>
<rect x="1028" y="662" width="3" height="56" fill="#00ff00"/>
<rect x="1044" y="662" width="3" height="51" fill="#00ff00"/>
<rect x="1060" y="662" width="3" height="46" fill="#00ff00"/>
<rect x="1076" y="662" width="3" height="42" fill="#00ff00"/>
<rect x="1092" y="662" width="3" height="39" fill="#00ff00"/>
<rect x="1108" y="662" width="3" height="36" fill="#00ff00"/>
<rect x="1124" y="662" width="3" height="35" fill="#00ff00"/>
<rect x="1140" y="662" width="3" height="31" fill="#00ff00"/>
<rect x="1156" y="662" width="3" height="28" fill="#00ff00"/>
<rect x="1172" y="662" width="3" height="26" fill="#00ff00"/>
<rect x="1188" y="662" width="3" height="25" fill="#00ff00"/>
<rect x="1204" y="662" width="3" height="25" fill="#00ff00"/>
<rect x="1220" y="662" width="3" height="24" fill="#00ff00"/>
<rect x="1236" y="662" width="3" height="21" fill="#00ff00"/>
<rect x="1252" y="662" width="3" height="18" fill="#00ff00"/>
<rect x="1268" y="662" width="3" height="15" fill="#00ff00"/>
<rect x="1284" y="662" width="3" height="12" fill="#00ff00"/>
<rect x="1300" y="662" width="3" height="8" fill="#00ff00"/>
<rect x="1316" y="662" width="3" height="4" fill="#00ff00"/>
<rect x="1332" y="661" width="3" height="1" fill="#00ff00"/>
<rect x="1348" y="659" width="3" height="3" fill="#00ff00"/>
<rect x="1364" y="658" width="3" height="4" fill="#00ff00"/>
</g>
<polyline points="5.0,638.0 54.0,638.0 56.0,639.0 104.0,639.0 106.0,640.0 147.0,640.0 150.0,642.0 165.0,642.0 167.0,643.0 181.0,643.0 183.0,644.5 197.0,645.0 199.0,646.0 213.5,646.1 245.5,648.6 277.5,650.3 309.5,652.3 341.5,654.0 373.5,655.8 405.6,656.8 419.5,656.8 421.3,657.8 453.4,659.7 485.4,661.7 517.4,663.2 533.3,664.7 549.4,667.2 565.3,669.7 581.4,672.2 597.3,674.6 613.5,677.6 629.3,679.6 645.5,682.6 661.4,685.3 677.5,688.5 693.4,691.3 709.5,694.5 725.4,696.5 741.5,699.5 757.4,701.4 773.5,704.4 789.4,706.2 805.6,708.4 821.3,710.4 837.2,712.1 853.4,714.4 869.5,716.1 885.4,718.3 901.3,720.1 917.4,722.3 933.3,723.3 949.4,725.0 965.3,725.8 981.4,725.8 997.3,725.8 1013.5,725.8 1029.3,725.3 1045.5,723.3 1061.4,721.3 1077.5,718.3 1093.4,715.3 1109.5,712.4 1125.4,709.4 1141.5,705.4 1157.4,702.4 1173.5,698.5 1189.4,695.5 1205.6,693.0 1221.3,691.0 1237.2,689.0 1253.4,687.1 1269.5,685.1 1285.4,682.6 1301.3,680.6 1317.4,678.1 1333.3,675.4 1349.4,672.7 1365.3,669.7" fill="none" stroke="#ff0000" stroke-width="2" stroke-linejoin="round" shape-rendering="crispEdges"/>
<g shape-rendering="crispEdges">
<line x1="6" y1="754.5" x2="1641" y2="754.5" stroke="#000" stroke-width="1" stroke-dasharray="3 3"/>
<line x1="6" y1="780.5" x2="1641" y2="780.5" stroke="#000" stroke-width="1" stroke-dasharray="3 3"/>
<line x1="6" y1="811.5" x2="1641" y2="811.5" stroke="#000" stroke-width="1" stroke-dasharray="3 3"/>
</g>
<polyline points="5.2,759.0 21.3,759.8 37.2,759.8 57.1,759.8 69.5,763.5 85.4,771.4 101.3,775.7 106.7,775.7 117.4,774.4 133.3,770.4 149.4,766.5 165.3,766.0 181.4,775.7 197.3,771.9 213.5,774.9 233.3,774.9 245.5,778.9 261.4,779.9 277.5,779.9 293.4,778.9 309.5,779.9 325.4,777.9 341.5,778.9 357.4,778.9 373.5,775.9 389.4,774.7 405.6,779.9 419.5,785.8 405.2,779.9 421.3,786.3 437.2,792.3 453.4,795.0 469.5,785.1 485.4,785.6 501.3,787.6 517.4,788.1 533.3,797.5 549.4,797.7 565.3,806.7 581.4,806.7 597.3,805.7 613.5,793.8 629.3,797.3 645.5,799.5 661.4,803.5 677.5,803.7 693.4,803.7 709.5,807.7 725.4,808.9 741.5,808.9 757.4,806.9 773.5,807.2 789.4,808.2 805.6,810.2 805.2,809.9 821.3,810.2 837.2,811.2 853.4,815.1 869.5,811.2 885.4,810.7 901.3,808.2 917.4,808.2 933.3,807.2 949.4,807.2 965.3,808.2 981.4,808.2 997.3,809.9 1013.5,795.8 1029.3,791.8 1045.5,789.1 1061.4,789.3 1077.5,789.8 1093.4,789.8 1109.5,789.8 1125.4,792.8 1141.5,785.1 1157.4,786.8 1173.5,786.8 1189.4,788.1 1205.6,791.8 1205.2,791.8 1221.3,791.8 1237.2,780.9 1253.4,780.9 1269.5,780.4 1285.4,776.9 1301.3,774.2 1317.4,771.2 1333.3,771.2 1349.4,772.7 1365.3,772.9" fill="none" stroke="#1e90ff" stroke-width="2" stroke-linejoin="round" shape-rendering="crispEdges"/>
<defs>
<pattern id="chk" width="2" height="2" patternUnits="userSpaceOnUse"><rect width="2" height="2" fill="#fff"/><rect width="1" height="1" fill="#f0f0f0"/><rect x="1" y="1" width="1" height="1" fill="#f0f0f0"/></pattern>
<linearGradient id="gPlus" x1="0" y1="0" x2="0" y2="1"><stop offset="0" stop-color="#7df27d"/><stop offset="0.5" stop-color="#22cc22"/><stop offset="1" stop-color="#0a9a0a"/></linearGradient>
<linearGradient id="gDoc" x1="0" y1="0" x2="1" y2="1"><stop offset="0" stop-color="#ffffff"/><stop offset="1" stop-color="#e6e6e6"/></linearGradient>
<linearGradient id="gGold" x1="0" y1="0" x2="1" y2="1"><stop offset="0" stop-color="#f6d23a"/><stop offset="0.5" stop-color="#efbf18"/><stop offset="1" stop-color="#c98a10"/></linearGradient>
<linearGradient id="gSrv" x1="0" y1="0" x2="1" y2="0"><stop offset="0" stop-color="#0a8cf0"/><stop offset="0.3" stop-color="#12a0ff"/><stop offset="1" stop-color="#2aa8ff"/></linearGradient>
<linearGradient id="gCloud" x1="0" y1="0" x2="0" y2="1"><stop offset="0" stop-color="#ffffff"/><stop offset="0.5" stop-color="#eef0f6"/><stop offset="1" stop-color="#b4bed8"/></linearGradient>
<linearGradient id="gSweep" x1="0" y1="0" x2="0.6" y2="1"><stop offset="0" stop-color="#dcecd4" stop-opacity="0.6"/><stop offset="0.5" stop-color="#b0d8a8" stop-opacity="0.85"/><stop offset="1" stop-color="#3ca43c"/></linearGradient>
<linearGradient id="gHat" x1="0" y1="0" x2="0" y2="1"><stop offset="0" stop-color="#8cccf0"/><stop offset="1" stop-color="#4aa4dc"/></linearGradient>
<linearGradient id="gFace" x1="0" y1="0" x2="1" y2="1"><stop offset="0" stop-color="#f6d848"/><stop offset="0.6" stop-color="#fff68a"/><stop offset="1" stop-color="#f0c830"/></linearGradient>
<radialGradient id="gStop" cx="0.5" cy="0.4" r="0.6"><stop offset="0" stop-color="#ff4a20"/><stop offset="1" stop-color="#cc1400"/></radialGradient>
<linearGradient id="gCandle" x1="0" y1="0" x2="0" y2="1"><stop offset="0" stop-color="#8cff8c"/><stop offset="1" stop-color="#1cd83c"/></linearGradient>
<radialGradient id="gLens" cx="0.4" cy="0.35" r="0.7"><stop offset="0" stop-color="#f4fcff"/><stop offset="1" stop-color="#b8e0f4"/></radialGradient>
<linearGradient id="gHandle" x1="0" y1="0" x2="1" y2="0"><stop offset="0" stop-color="#f8e070"/><stop offset="1" stop-color="#c09010"/></linearGradient>
<linearGradient id="gTileG" x1="0" y1="0" x2="1" y2="1"><stop offset="0" stop-color="#2a9a18"/><stop offset="1" stop-color="#44b428"/></linearGradient>
<linearGradient id="gTileB" x1="0" y1="0" x2="1" y2="1"><stop offset="0" stop-color="#1c48c8"/><stop offset="1" stop-color="#3a70e8"/></linearGradient>
<radialGradient id="gClock" cx="0.45" cy="0.35" r="0.75"><stop offset="0" stop-color="#38a0f0"/><stop offset="0.7" stop-color="#1468d0"/><stop offset="1" stop-color="#0a48a8"/></radialGradient>
<linearGradient id="gBadge" x1="0" y1="0" x2="0" y2="1"><stop offset="0" stop-color="#ea5a3a"/><stop offset="1" stop-color="#d41808"/></linearGradient>
<linearGradient id="gTpl" x1="0" y1="0" x2="0" y2="1"><stop offset="0" stop-color="#6aa8e8"/><stop offset="1" stop-color="#2a64c0"/></linearGradient>
</defs>
<g shape-rendering="crispEdges">
<rect x="5" y="0" width="1" height="20" fill="#a0a0a0"/>
<rect x="336" y="0" width="1" height="20" fill="#a0a0a0"/>
<rect x="426" y="0" width="1" height="20" fill="#a0a0a0"/>
<rect x="488" y="0" width="1" height="20" fill="#a0a0a0"/>
<rect x="676" y="0" width="1" height="20" fill="#a0a0a0"/>
<rect x="1176" y="0" width="1" height="20" fill="#a0a0a0"/>
<rect x="241" y="0" width="1" height="22" fill="#a0a0a0"/>
<rect x="242" y="0" width="1" height="22" fill="#ffffff"/>
<rect x="609" y="0" width="1" height="22" fill="#a0a0a0"/>
<rect x="610" y="0" width="1" height="22" fill="#ffffff"/>
<rect x="915" y="0" width="1" height="22" fill="#a0a0a0"/>
<rect x="916" y="0" width="1" height="22" fill="#ffffff"/>
<rect x="245" y="0" width="3" height="1" fill="#a8a8a8"/>
<rect x="245" y="2" width="3" height="1" fill="#a8a8a8"/>
<rect x="245" y="4" width="3" height="1" fill="#a8a8a8"/>
<rect x="245" y="6" width="3" height="1" fill="#a8a8a8"/>
<rect x="245" y="8" width="3" height="1" fill="#a8a8a8"/>
<rect x="245" y="10" width="3" height="1" fill="#a8a8a8"/>
<rect x="245" y="12" width="3" height="1" fill="#a8a8a8"/>
<rect x="245" y="14" width="3" height="1" fill="#a8a8a8"/>
<rect x="245" y="16" width="3" height="1" fill="#a8a8a8"/>
<rect x="245" y="18" width="3" height="1" fill="#a8a8a8"/>
<rect x="613" y="0" width="3" height="1" fill="#a8a8a8"/>
<rect x="613" y="2" width="3" height="1" fill="#a8a8a8"/>
<rect x="613" y="4" width="3" height="1" fill="#a8a8a8"/>
<rect x="613" y="6" width="3" height="1" fill="#a8a8a8"/>
<rect x="613" y="8" width="3" height="1" fill="#a8a8a8"/>
<rect x="613" y="10" width="3" height="1" fill="#a8a8a8"/>
<rect x="613" y="12" width="3" height="1" fill="#a8a8a8"/>
<rect x="613" y="14" width="3" height="1" fill="#a8a8a8"/>
<rect x="613" y="16" width="3" height="1" fill="#a8a8a8"/>
<rect x="613" y="18" width="3" height="1" fill="#a8a8a8"/>
<rect x="919" y="0" width="3" height="1" fill="#a8a8a8"/>
<rect x="919" y="2" width="3" height="1" fill="#a8a8a8"/>
<rect x="919" y="4" width="3" height="1" fill="#a8a8a8"/>
<rect x="919" y="6" width="3" height="1" fill="#a8a8a8"/>
<rect x="919" y="8" width="3" height="1" fill="#a8a8a8"/>
<rect x="919" y="10" width="3" height="1" fill="#a8a8a8"/>
<rect x="919" y="12" width="3" height="1" fill="#a8a8a8"/>
<rect x="919" y="14" width="3" height="1" fill="#a8a8a8"/>
<rect x="919" y="16" width="3" height="1" fill="#a8a8a8"/>
<rect x="919" y="18" width="3" height="1" fill="#a8a8a8"/>
<rect x="280" y="0" width="24" height="20" fill="url(#chk)"/>
<rect x="279" y="0" width="1" height="20" fill="#a0a0a0"/>
<rect x="304" y="0" width="1" height="21" fill="#fff"/>
<rect x="279" y="20" width="26" height="1" fill="#fff"/>
<rect x="432" y="0" width="25" height="20" fill="url(#chk)"/>
<rect x="431" y="0" width="1" height="20" fill="#a0a0a0"/>
<rect x="457" y="0" width="1" height="21" fill="#fff"/>
<rect x="431" y="20" width="27" height="1" fill="#fff"/>
<rect x="460" y="0" width="24" height="20" fill="url(#chk)"/>
<rect x="459" y="0" width="1" height="20" fill="#a0a0a0"/>
<rect x="484" y="0" width="1" height="21" fill="#fff"/>
<rect x="459" y="20" width="26" height="1" fill="#fff"/>
<rect x="620" y="0" width="25" height="20" fill="url(#chk)"/>
<rect x="619" y="0" width="1" height="20" fill="#a0a0a0"/>
<rect x="645" y="0" width="1" height="21" fill="#fff"/>
<rect x="619" y="20" width="27" height="1" fill="#fff"/>
<rect x="1066" y="0" width="24" height="20" fill="url(#chk)"/>
<rect x="1065" y="0" width="1" height="20" fill="#a0a0a0"/>
<rect x="1090" y="0" width="1" height="21" fill="#fff"/>
<rect x="1065" y="20" width="26" height="1" fill="#fff"/>
</g>
<text x="33.8" y="12.9" font-family='"Liberation Sans","Noto Sans CJK SC","WenQuanYi Zen Hei",sans-serif' font-size="12" fill="#000" stroke="#000" stroke-width="0.2" textLength="36.4" lengthAdjust="spacingAndGlyphs">新订单</text>
<text x="186.6" y="12.9" font-family='"Liberation Sans","Noto Sans CJK SC","WenQuanYi Zen Hei",sans-serif' font-size="12" fill="#000" stroke="#000" stroke-width="0.2" textLength="47.6" lengthAdjust="spacingAndGlyphs">自动交易</text>
<g>
<path d="M15.5 3.2 Q15.5 2.5 16.2 2.5 H23.6 L26.5 5.4 V14.2 Q26.5 15 25.8 15 H16.2 Q15.5 15 15.5 14.3 Z" fill="url(#gDoc)" stroke="#7c7c7c" stroke-width="1"/>
<path d="M23.4 2.6 V5.6 H26.4" fill="#fff" stroke="#9a9a9a" stroke-width="0.8"/>
<rect x="17.6" y="5" width="3.4" height="1.6" fill="#9c9c9c"/>
<rect x="17.6" y="8.6" width="6" height="1" fill="#a8a8a8"/><rect x="17.6" y="10.8" width="5" height="1" fill="#a8a8a8"/><rect x="17.6" y="12.8" width="3" height="1" fill="#a8a8a8"/>
<path d="M23.2 8.6 H27 V12.2 H30.8 V16 H27 V19.6 H23.2 V16 H19.4 V12.2 H23.2 Z" fill="url(#gPlus)" stroke="#0c8c0c" stroke-width="0.9" stroke-linejoin="round"/>
</g>
<g>
<path d="M87.8 2.9 L98.2 11.2 L98.2 12.5 L89.7 18.1 L81.9 12.0 Q85.3 9.6 86.1 5.8 Z" fill="#9a6410"/>
<path d="M96.7 10.7 L97.5 11.7 L89.8 16.9 L89.3 15.7 Z" fill="#ecdfa6"/>
<path d="M88.1 4.3 L96.3 10.5 L89.2 15.5 L83.5 11.8 Q86.5 9.6 87.3 6.3 Z" fill="url(#gGold)"/>
<path d="M83.3 12.3 L89.2 16.3" stroke="#f6da70" stroke-width="0.9" fill="none"/>
</g>
<g>
<path d="M112 3 L118 2.3 L123.2 3.6 V11 H112 Z" fill="url(#gSrv)"/>
<path d="M112.4 3.2 L115.6 5.2 V11" stroke="#e8f6ff" stroke-width="0.8" fill="none"/>
<rect x="117" y="6.6" width="5" height="1.3" fill="#e4f2ff"/>
<rect x="117" y="9" width="5" height="1" fill="#c8e4ff"/>
<path d="M113.2 17.4 Q110.4 17.4 110.6 14.9 Q110.8 12.9 113.4 13 Q113.8 11.2 116 11.6 Q117.2 9.9 119.3 10.6 Q121.2 11.2 121.6 12.6 Q123.2 11.4 124.6 12.5 Q126.2 13.7 125.6 15.6 Q125.2 17.4 123 17.4 Z" fill="url(#gCloud)" stroke="#4a66a8" stroke-width="1"/>
</g>
<g fill="none">
<path d="M146.2 10 L146.2 17.8 A7.8 7.8 0 0 0 149.6 3.0 Z" fill="url(#gSweep)"/>
<circle cx="146" cy="10" r="7.6" stroke="#4a74d8" stroke-width="1" stroke-opacity="0.55"/>
<circle cx="146" cy="10" r="4.9" stroke="#4a74d8" stroke-width="1" stroke-opacity="0.5"/>
<path d="M152.4 5.8 A7.6 7.6 0 0 1 150 16.5" stroke="#2a5a90" stroke-width="1.1" stroke-opacity="0.8"/>
<circle cx="145.9" cy="9.7" r="1.9" fill="#2a58d0"/>
<rect x="145.9" y="10" width="1.2" height="7.8" fill="#18a818"/>
</g>
<g>
<path d="M165.4 9.4 L180.6 8.4 L173.8 17.6 L171.8 17.6 Z" fill="url(#gFace)" stroke="#d0a010" stroke-width="0.9" stroke-linejoin="round"/>
<path d="M165.1 7.1 Q165.4 5.4 166.8 5.2 Q168.2 5.4 169.4 6.2 Q169.4 3.6 170.4 3 Q173.4 0.8 176.4 3 Q177.2 3.8 177.1 5.8 Q178.6 4.8 180.2 4.6 Q181.4 5 181 6.2 Q180.8 7.6 179.6 8.2 Q176 9.4 173 9.2 Q169 9.2 166.4 8.6 Q165 8.2 165.1 7.1 Z" fill="url(#gHat)" stroke="#1a84ac" stroke-width="0.9"/><path d="M169.4 6.2 Q173.2 8 177.1 5.8" fill="none" stroke="#2a8cb8" stroke-width="0.8"/>
<circle cx="177.5" cy="13.7" r="4.1" fill="url(#gStop)"/>
<rect x="176.1" y="12.2" width="2.9" height="2.9" fill="#fff"/>
</g>
<g shape-rendering="crispEdges" fill="#505050"><rect x="259" y="4" width="1" height="14"/><rect x="258" y="5" width="3" height="1"/><rect x="257" y="15" width="14" height="1"/><rect x="269" y="14" width="1" height="3"/></g>
<g shape-rendering="crispEdges" fill="#109010"><rect x="265" y="5" width="1" height="9"/><rect x="265" y="5" width="3" height="1"/><rect x="263" y="12" width="3" height="1"/></g>
<g shape-rendering="crispEdges" fill="#505050"><rect x="287" y="4" width="1" height="14"/><rect x="286" y="5" width="3" height="1"/><rect x="285" y="15" width="14" height="1"/><rect x="297" y="14" width="1" height="3"/></g>
<g shape-rendering="crispEdges"><rect x="293" y="2" width="1" height="12" fill="#0a960a"/><rect x="291" y="4" width="5" height="8" fill="#0a960a"/><rect x="292" y="5" width="3" height="6" fill="url(#gCandle)"/></g>
<g shape-rendering="crispEdges" fill="#505050"><rect x="315" y="4" width="1" height="14"/><rect x="314" y="5" width="3" height="1"/><rect x="313" y="15" width="14" height="1"/><rect x="325" y="14" width="1" height="3"/></g>
<path d="M314 13.2 Q316 12 318 9 Q319.6 6.6 321 7.6 Q323 9.2 324.4 10.6 L326 11.8" fill="none" stroke="#2a9a3a" stroke-width="1.1"/>
<g><path d="M354.3 9.8 L360 15.8" stroke="#a88410" stroke-width="3.2" stroke-linecap="round"/><path d="M354.5 9.9 L359.8 15.5" stroke="#f4d84a" stroke-width="1.6" stroke-linecap="round"/><circle cx="351" cy="8" r="5.4" fill="url(#gLens)" stroke="#2a7ad0" stroke-width="1.2"/><rect x="348" y="7.2" width="6" height="1.7" fill="#3a86b8"/><rect x="350.15" y="5" width="1.7" height="6" fill="#3a86b8"/></g>
<g><path d="M382.3 9.8 L388 15.8" stroke="#a88410" stroke-width="3.2" stroke-linecap="round"/><path d="M382.5 9.9 L387.8 15.5" stroke="#f4d84a" stroke-width="1.6" stroke-linecap="round"/><circle cx="379" cy="8" r="5.4" fill="url(#gLens)" stroke="#2a7ad0" stroke-width="1.2"/><rect x="376" y="7.2" width="6" height="1.7" fill="#3a86b8"/></g>
<g shape-rendering="crispEdges">
<rect x="401" y="2" width="8" height="8" fill="url(#gTileG)"/>
<rect x="402" y="5" width="6" height="4" fill="#fff"/>
<rect x="403" y="6" width="4" height="1" fill="#c8f0a8"/>
<rect x="402" y="3" width="1" height="1" fill="#fff" fill-opacity="0.8"/>
<rect x="409" y="2" width="8" height="8" fill="url(#gTileB)"/>
<rect x="410" y="5" width="6" height="4" fill="#fff"/>
<rect x="411" y="6" width="4" height="1" fill="#b8d0ff"/>
<rect x="410" y="3" width="1" height="1" fill="#fff" fill-opacity="0.8"/>
<rect x="401" y="10" width="8" height="8" fill="url(#gTileB)"/>
<rect x="402" y="13" width="6" height="4" fill="#fff"/>
<rect x="403" y="14" width="4" height="1" fill="#b8d0ff"/>
<rect x="402" y="11" width="1" height="1" fill="#fff" fill-opacity="0.8"/>
<rect x="409" y="10" width="8" height="8" fill="url(#gTileG)"/>
<rect x="410" y="13" width="6" height="4" fill="#fff"/>
<rect x="411" y="14" width="4" height="1" fill="#c8f0a8"/>
<rect x="410" y="11" width="1" height="1" fill="#fff" fill-opacity="0.8"/>
</g>
<g shape-rendering="crispEdges" fill="#505050"><rect x="439" y="4" width="1" height="14"/><rect x="438" y="5" width="3" height="1"/><rect x="437" y="15" width="14" height="1"/><rect x="449" y="14" width="1" height="3"/></g>
<path d="M444.3 6 L444.3 13 L448.2 9.5 Z" fill="#7be07b" stroke="#109010" stroke-width="1" stroke-linejoin="miter"/>
<g shape-rendering="crispEdges" fill="#505050"><rect x="467" y="4" width="1" height="14"/><rect x="466" y="5" width="3" height="1"/><rect x="465" y="15" width="14" height="1"/><rect x="477" y="14" width="1" height="3"/></g>
<rect x="473" y="4" width="1" height="10" fill="#1a70a8" shape-rendering="crispEdges"/>
<path d="M474.2 9.5 L478 6.6 L477.4 9 H479.4 V10 H477.4 L478 12.4 Z" fill="#d84a10"/>
<g>
<path d="M498.5 3.2 Q498.5 2.5 499.2 2.5 H506.6 L509.5 5.4 V14.2 Q509.5 15 508.8 15 H499.2 Q498.5 15 498.5 14.3 Z" fill="url(#gDoc)" stroke="#7c7c7c" stroke-width="1"/>
<path d="M506.4 2.6 V5.6 H509.4" fill="#fff" stroke="#9a9a9a" stroke-width="0.8"/>
<path d="M502.5 5 V13 M501 8 H502.5 M502.5 10.5 H504" stroke="#6a6a5a" stroke-width="1" fill="none"/>
<path d="M506.2 8.6 H510 V12.2 H513.8 V16 H510 V19.6 H506.2 V16 H502.4 V12.2 H506.2 Z" fill="url(#gPlus)" stroke="#0c8c0c" stroke-width="0.9" stroke-linejoin="round"/>
</g>
<path d="M519.5 9 h6 l-3 3.2 z" fill="#000"/>
<path d="M558.5 9 h6 l-3 3.2 z" fill="#000"/>
<path d="M597.5 9 h6 l-3 3.2 z" fill="#000"/>
<path d="M903.5 9 h6 l-3 3.2 z" fill="#000"/>
<g>
<circle cx="544" cy="10" r="7.8" fill="url(#gClock)"/>
<circle cx="544" cy="9.8" r="5.2" fill="#f0f4f8"/>
<path d="M543.6 6 V10.4 H546.6" stroke="#303030" stroke-width="1.2" fill="none"/>
<circle cx="544" cy="14" r="0.5" fill="#4080d0"/><circle cx="540" cy="10" r="0.4" fill="#808080"/><circle cx="548" cy="10" r="0.4" fill="#808080"/>
</g>
<g shape-rendering="crispEdges">
<rect x="575" y="3" width="16" height="14" fill="url(#gTpl)"/>
<rect x="576" y="4" width="14" height="1" fill="#a8d0f8"/>
<rect x="576" y="6" width="14" height="5" fill="#fff"/><rect x="576" y="12" width="14" height="4" fill="#fff"/>
</g>
<path d="M577 9.4 H579 L580.5 8.2 H582 L583 8.8 H585 L586.5 7.4 H589" stroke="#b02810" stroke-width="1.1" fill="none"/>
<path d="M577.5 14.6 H579 L580.5 13.6 L582.4 14.6 L585.6 12.6 L588.6 14.8" stroke="#18902a" stroke-width="1.1" fill="none"/>
<path d="M627.2 2.8 L627.2 13.8 L629.6 11.6 L632 16.8 L633.8 16 L631.4 10.9 L634.8 10.6 Z" fill="#505050"/>
<g shape-rendering="crispEdges" fill="#505050"><rect x="659" y="3" width="1" height="6"/><rect x="659" y="12" width="1" height="6"/><rect x="652" y="10" width="6" height="1"/><rect x="661" y="10" width="6" height="1"/><rect x="659" y="10" width="1" height="1" fill="#909090"/></g>
<g shape-rendering="crispEdges" fill="#505050"><rect x="693" y="4" width="1" height="13"/><rect x="716" y="10" width="12" height="1"/></g>
<path d="M744 17 L756 4.8" stroke="#505050" stroke-width="1.1"/>
<g stroke="#484848" fill="none" stroke-width="1.2">
<path d="M770 12 L778.5 4.2 M771 16.4 L783.4 6 M775.5 16.8 L784.4 8.8" />
<path d="M773 9.6 L772.4 15.6 M775.6 7.6 L775 13.8 M778.4 5.6 L777.6 11.8 M781.4 2.4 L781 9.4 L783.2 8.4" stroke-width="1.1"/>
</g>
<text x="780.4" y="18.9" font-family='"Liberation Sans",sans-serif' font-weight="bold" font-size="7" fill="#404040">E</text>
<g shape-rendering="crispEdges" fill="#505050">
<rect x="799" y="3" width="1" height="1"/>
<rect x="801" y="3" width="1" height="1"/>
<rect x="803" y="3" width="1" height="1"/>
<rect x="805" y="3" width="1" height="1"/>
<rect x="807" y="3" width="1" height="1"/>
<rect x="809" y="3" width="1" height="1"/>
<rect x="811" y="3" width="1" height="1"/>
<rect x="799" y="6" width="1" height="1"/>
<rect x="801" y="6" width="1" height="1"/>
<rect x="803" y="6" width="1" height="1"/>
<rect x="805" y="6" width="1" height="1"/>
<rect x="807" y="6" width="1" height="1"/>
<rect x="809" y="6" width="1" height="1"/>
<rect x="811" y="6" width="1" height="1"/>
<rect x="799" y="10" width="1" height="1"/>
<rect x="801" y="10" width="1" height="1"/>
<rect x="803" y="10" width="1" height="1"/>
<rect x="805" y="10" width="1" height="1"/>
<rect x="807" y="10" width="1" height="1"/>
<rect x="809" y="10" width="1" height="1"/>
<rect x="811" y="10" width="1" height="1"/>
<rect x="799" y="14" width="1" height="1"/>
<rect x="801" y="14" width="1" height="1"/>
<rect x="803" y="14" width="1" height="1"/>
<rect x="805" y="14" width="1" height="1"/>
<rect x="807" y="14" width="1" height="1"/>
</g>
<text x="808.6" y="18.9" font-family='"Liberation Sans",sans-serif' font-weight="bold" font-size="7" fill="#404040">F</text>
<text x="830" y="15" font-family='"Liberation Sans",sans-serif' font-size="12.6" fill="#585858" stroke="#585858" stroke-width="0.35" textLength="7.4" lengthAdjust="spacingAndGlyphs">A</text>
<g shape-rendering="crispEdges" fill="#505050">
<rect x="859" y="4" width="1" height="1"/>
<rect x="861" y="4" width="1" height="1"/>
<rect x="863" y="4" width="1" height="1"/>
<rect x="865" y="4" width="1" height="1"/>
<rect x="867" y="4" width="1" height="1"/>
<rect x="856" y="16" width="1" height="1"/>
<rect x="858" y="16" width="1" height="1"/>
<rect x="860" y="16" width="1" height="1"/>
<rect x="862" y="16" width="1" height="1"/>
<rect x="864" y="16" width="1" height="1"/>
<rect x="866" y="16" width="1" height="1"/>
<rect x="856" y="6" width="1" height="1"/>
<rect x="856" y="8" width="1" height="1"/>
<rect x="856" y="10" width="1" height="1"/>
<rect x="856" y="12" width="1" height="1"/>
<rect x="856" y="14" width="1" height="1"/>
<rect x="856" y="16" width="1" height="1"/>
<rect x="867" y="4" width="1" height="1"/>
<rect x="867" y="6" width="1" height="1"/>
<rect x="867" y="8" width="1" height="1"/>
<rect x="867" y="10" width="1" height="1"/>
<rect x="867" y="12" width="1" height="1"/>
<rect x="867" y="14" width="1" height="1"/>
<rect x="856" y="4" width="2" height="1"/>
<rect x="855" y="3" width="2" height="1"/>
<rect x="858" y="7" width="8" height="1"/><rect x="861" y="7" width="2" height="8"/>
</g>
<g fill="#505050">
<path d="M882.6 7.8 L886.4 3.6 L890.2 7.8 H888.2 V9.1 H884.7 V7.8 Z"/>
<path d="M889.9 12.7 H891.7 V11.6 H895.3 V12.7 H897.3 L893.6 17.1 Z"/>
<path d="M885.2 11.3 L887.4 13.6 L891.8 8.3" stroke="#505050" stroke-width="1.3" fill="none"/>
</g>
<text x="930.1" y="14" font-family='"DejaVu Sans Condensed","DejaVu Sans","Liberation Sans",sans-serif' font-size="9.5" fill="#3c3c3c" stroke="#3c3c3c" stroke-width="0.25" textLength="13.7" lengthAdjust="spacingAndGlyphs">M1</text>
<text x="958.2" y="14" font-family='"DejaVu Sans Condensed","DejaVu Sans","Liberation Sans",sans-serif' font-size="9.5" fill="#3c3c3c" stroke="#3c3c3c" stroke-width="0.25" textLength="13.6" lengthAdjust="spacingAndGlyphs">M5</text>
<text x="984.2" y="14" font-family='"DejaVu Sans Condensed","DejaVu Sans","Liberation Sans",sans-serif' font-size="9.5" fill="#3c3c3c" stroke="#3c3c3c" stroke-width="0.25" textLength="18.6" lengthAdjust="spacingAndGlyphs">M15</text>
<text x="1012.1" y="14" font-family='"DejaVu Sans Condensed","DejaVu Sans","Liberation Sans",sans-serif' font-size="9.5" fill="#3c3c3c" stroke="#3c3c3c" stroke-width="0.25" textLength="18.7" lengthAdjust="spacingAndGlyphs">M30</text>
<text x="1043.2" y="14" font-family='"DejaVu Sans Condensed","DejaVu Sans","Liberation Sans",sans-serif' font-size="9.5" fill="#3c3c3c" stroke="#3c3c3c" stroke-width="0.25" textLength="12.5" lengthAdjust="spacingAndGlyphs">H1</text>
<text x="1070.2" y="14" font-family='"DejaVu Sans Condensed","DejaVu Sans","Liberation Sans",sans-serif' font-size="9.5" fill="#3c3c3c" stroke="#3c3c3c" stroke-width="0.25" textLength="13.2" lengthAdjust="spacingAndGlyphs">H4</text>
<text x="1099.1" y="14" font-family='"DejaVu Sans Condensed","DejaVu Sans","Liberation Sans",sans-serif' font-size="9.5" fill="#3c3c3c" stroke="#3c3c3c" stroke-width="0.25" textLength="12.6" lengthAdjust="spacingAndGlyphs">D1</text>
<text x="1126.4" y="14" font-family='"DejaVu Sans Condensed","DejaVu Sans","Liberation Sans",sans-serif' font-size="9.5" fill="#3c3c3c" stroke="#3c3c3c" stroke-width="0.25" textLength="15.1" lengthAdjust="spacingAndGlyphs">W1</text>
<text x="1153.3" y="14" font-family='"DejaVu Sans Condensed","DejaVu Sans","Liberation Sans",sans-serif' font-size="9.5" fill="#3c3c3c" stroke="#3c3c3c" stroke-width="0.25" textLength="15.3" lengthAdjust="spacingAndGlyphs">MN</text>
<g>
<path d="M1643.2 10.8 L1639 14.9" stroke="#1c4cc8" stroke-width="2.6" stroke-linecap="round"/>
<circle cx="1646.6" cy="7.2" r="4.2" fill="#f8f8ff" stroke="#1c50d4" stroke-width="1.3"/>
</g>
<g>
<path d="M1664 12 Q1663.6 7.6 1669 7.2 H1674 Q1676 9 1675.6 13 Q1675 16 1671 16 H1668.4 L1666.6 18.4 L1666.8 15.8 Q1664.2 15.2 1664 12 Z" fill="#e4e6f0" stroke="#a8a8a8" stroke-width="0.9"/>
<circle cx="1677.4" cy="7.8" r="8.3" fill="url(#gBadge)"/>
<text x="1677" y="12.2" font-family='"DejaVu Sans Condensed","DejaVu Sans","Liberation Sans",sans-serif' font-size="12" fill="#fff" text-anchor="middle">1</text>
</g>
</svg>
</body></html>
